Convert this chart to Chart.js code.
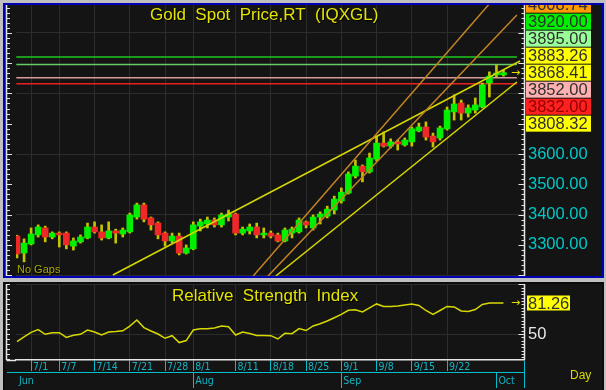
<!DOCTYPE html>
<html>
<head>
<meta charset="utf-8">
<script src="https://cdn.jsdelivr.net/npm/chart.js@4.4.0/dist/chart.umd.min.js"></script>
<style>
  body { margin: 0; width: 606px; height: 390px; overflow: hidden; position: relative; background: #c0c0c0; }
  .panel { position: absolute; left: 3px; width: 597px; background: #141414; overflow: hidden; }
  #top { top: 3px; height: 271px; border: 2px solid #0000b4; }
  #bot { top: 282px; height: 106px; border: 2px solid #0c0c0c; border-bottom: none; }
  canvas { position: absolute; left: 0; top: 0; }
</style>
</head>
<body>
<div class="panel" id="top"><canvas id="price" width="597" height="271"></canvas></div>
<div class="panel" id="bot"><canvas id="rsi" width="597" height="104"></canvas></div>
<script>
const dates = ["6/27","6/30","7/1","7/2","7/3","7/4","7/7","7/8","7/9","7/10","7/11",
  "7/14","7/15","7/16","7/17","7/18","7/21","7/22","7/23","7/24","7/25","7/28","7/29","7/30","7/31",
  "8/1","8/4","8/5","8/6","8/7","8/8","8/11","8/12","8/13","8/14","8/15","8/18","8/19","8/20","8/21","8/22",
  "8/25","8/26","8/27","8/28","8/29","9/1","9/2","9/3","9/4","9/5","9/8","9/9","9/10","9/11","9/12",
  "9/15","9/16","9/17","9/18","9/19","9/22","9/23","9/24","9/25","9/26","9/29","9/30","10/1","10/2"];

const open  = [3329,3273,3303,3333,3356,3326,3339,3339,3296,3310,3323,3359,3343,3323,3346,3336,3343,3392,3432,3389,
  3372,3339,3313,3329,3273,3287,3362,3369,3382,3366,3392,3402,3339,3346,3359,3333,3339,3333,3313,3339,
  3343,3376,3356,3392,3395,3415,3445,3471,3527,3560,3541,3583,3636,3626,3640,3630,3640,3676,3689,3659,
  3653,3683,3739,3768,3735,3745,3755,3834,3861,3861];
const high  = [3332,3320,3356,3366,3362,3343,3343,3343,3323,3333,3372,3376,3366,3376,3352,3356,3405,3438,3438,3392,
  3376,3343,3339,3339,3300,3376,3385,3392,3389,3405,3415,3405,3359,3369,3372,3356,3346,3339,3356,3359,
  3389,3379,3399,3409,3428,3461,3488,3541,3580,3564,3603,3659,3673,3650,3646,3653,3689,3702,3706,3669,
  3692,3755,3795,3778,3762,3785,3834,3871,3894,3877];
const low   = [3257,3244,3300,3326,3310,3320,3293,3287,3283,3306,3320,3339,3316,3320,3306,3326,3339,3385,3376,3349,
  3320,3296,3306,3267,3270,3284,3346,3356,3359,3359,3379,3333,3333,3336,3323,3323,3323,3310,3310,3323,
  3339,3356,3349,3369,3389,3402,3438,3468,3521,3508,3537,3577,3623,3620,3613,3626,3626,3673,3646,3623,
  3646,3679,3712,3712,3722,3735,3752,3788,3854,3857];
const close = [3270,3306,3336,3359,3326,3339,3333,3300,3313,3326,3359,3343,3323,3346,3339,3349,3399,3432,3385,3366,
  3333,3313,3329,3273,3290,3366,3376,3382,3366,3399,3402,3339,3352,3359,3333,3339,3329,3313,3349,3352,
  3382,3366,3392,3402,3418,3451,3474,3534,3560,3541,3587,3636,3626,3640,3633,3646,3683,3689,3656,3640,
  3686,3745,3765,3735,3752,3762,3828,3857,3867,3868.41];

const rsi = [42.2,47.0,51.7,54.5,49.7,51.3,51.3,46.5,48.7,49.7,54.0,52.0,49.0,52.0,52.5,53.2,58.0,64.1,56.5,53.0,
  50.0,45.7,48.3,41.4,43.4,54.0,55.4,55.4,56.1,58.1,57.4,49.0,52.0,50.5,48.6,48.4,48.3,45.0,50.7,50.3,
  55.5,53.5,58.1,60.3,63.1,66.4,69.7,73.9,74.5,72.2,76.3,80.3,77.7,77.8,78.3,79.3,80.3,78.8,73.7,69.7,
  73.7,77.8,77.3,73.2,72.7,74.7,79.8,81.3,81.3,81.26];

const weekStarts = ["7/1","7/7","7/14","7/21","7/28","8/1","8/11","8/18","8/25","9/1","9/8","9/15","9/22"];
const monthLabels = ["Jun","Aug","Sep","Oct"];
const monthStarts = ["6/27","8/1","9/1","10/1"];

const priceTicks = [3200,3300,3400,3500,3600,3700,3800,3900,4000];
const priceLabelled = [3300,3400,3500,3600];
const rsiTicks = [50,100];

const levelValues = [3920, 3895, 3852, 3832];
const levelColors = ["#1ec81e", "#66cc66", "#d89a9a", "#e82020"];

const boxValues = [4008.74, 3920.00, 3895.00, 3883.26, 3868.41, 3852.00, 3832.00, 3808.32];
const boxColors = ["#ff9a00", "#00f000", "#99ff99", "#ffff00", "#ffff00", "#ffb0b0", "#ff2020", "#ffff00"];
const boxText   = ["#303030", "#303030", "#303030", "#303030", "#303030", "#303030", "#900000", "#303030"];

// trend lines: [start index, start price, end index, end price]
const trendYellow = [[13.6, 3200.7, 71.35, 3906.9], [36.7, 3197.4, 70.9, 3837.6]];
const trendOrange = [[33.5, 3197.4, 67.1, 4098.3], [35.6, 3197.4, 70.9, 4058.7]];

const rsiLast = 81.26;

Chart.defaults.font.family = '"Liberation Sans", Arial, sans-serif';
Chart.defaults.animation = false;

const xMin = -0.142, xMax = 71.91;
const weekIdx = weekStarts.map(d => dates.indexOf(d));
const monthIdx = monthStarts.map(d => dates.indexOf(d));
const gridColor = "#2c2c2c";
const cyan = "#00c0d0";
const smallFont = '"Liberation Sans Narrow", "DejaVu Sans Condensed", "Liberation Sans", sans-serif';

function noPad(s) {
  s.paddingTop = 0; s.paddingBottom = 0; s.paddingLeft = 0; s.paddingRight = 0;
}

function drawAxisTicks(ctx, scale, x, dir, step, majorEvery, minorLen, majorLen, top, bottom) {
  ctx.strokeStyle = "#e6e6e6";
  ctx.lineWidth = 1.5;
  ctx.beginPath(); ctx.moveTo(x, top); ctx.lineTo(x, bottom); ctx.stroke();
  ctx.lineWidth = 1;
  const k0 = Math.ceil(scale.min / step), k1 = Math.floor(scale.max / step);
  for (let k = k0; k <= k1; k++) {
    const py = Math.round(scale.getPixelForValue(k * step)) + 0.5;
    const len = k % majorEvery === 0 ? majorLen : minorLen;
    ctx.beginPath(); ctx.moveTo(x, py); ctx.lineTo(x + dir * len, py); ctx.stroke();
  }
}

function titleText(ctx, text, x, y, color, font) {
  ctx.font = font;
  ctx.textAlign = "left";
  ctx.textBaseline = "middle";
  ctx.fillStyle = "#000";
  ctx.fillText(text, x + 1, y + 1);
  ctx.fillStyle = color;
  ctx.fillText(text, x, y);
}

const priceDecor = {
  id: "priceDecor",
  afterDraw(chart) {
    const { ctx, chartArea: a, scales: { y } } = chart;
    ctx.save();
    drawAxisTicks(ctx, y, 1.5, 1, 100 / 6, 6, 3.5, 5.5, 0, chart.height);
    drawAxisTicks(ctx, y, a.right + 0.5, -1, 100 / 6, 6, 3, 6, 0, chart.height);

    // last price arrow
    const last = close[close.length - 1];
    const yLast = y.getPixelForValue(last);
    ctx.fillStyle = "#e0e000";
    ctx.font = "11px 'DejaVu Sans'";
    ctx.textAlign = "left";
    ctx.textBaseline = "middle";
    ctx.fillText("\u2192", a.right - 13, yLast);

    // stacked price boxes
    const lastBox = boxValues.indexOf(last);
    ctx.font = '16.5px "Liberation Sans", Arial';
    boxValues.forEach((v, k) => {
      const cy = yLast + (k - lastBox) * 17;
      ctx.fillStyle = boxColors[k];
      ctx.fillRect(a.right + 2, cy - 8, 65, 16);
      ctx.fillStyle = boxText[k];
      ctx.fillText(v.toFixed(2), a.right + 4, cy + 1);
    });

    titleText(ctx, "Gold  Spot  Price,RT  (IQXGL)", 145, 10, "#e4e400", '17px "Liberation Sans", Arial');
    titleText(ctx, "No Gaps", 12, 265, "#a8a800", '11px "Liberation Sans", Arial');
    ctx.restore();
  }
};

const rsiDecor = {
  id: "rsiDecor",
  afterDraw(chart) {
    const { ctx, chartArea: a, scales: { y } } = chart;
    ctx.save();
    // date/month rows: extend frame lines to the left axis and close them on the right
    ctx.lineWidth = 1.5;
    ctx.strokeStyle = "#e6e6e6";
    ctx.beginPath(); ctx.moveTo(1.5, a.bottom + 0.5); ctx.lineTo(a.left, a.bottom + 0.5); ctx.stroke();
    ctx.lineWidth = 1;
    ctx.strokeStyle = cyan;
    ctx.beginPath(); ctx.moveTo(2, a.bottom + 12.5); ctx.lineTo(a.left, a.bottom + 12.5); ctx.stroke();
    ctx.beginPath(); ctx.moveTo(a.right + 0.5, a.bottom + 1); ctx.lineTo(a.right + 0.5, chart.height); ctx.stroke();

    drawAxisTicks(ctx, y, 1.5, 1, 5, 10, 3.5, 3.5, 0, a.bottom);
    drawAxisTicks(ctx, y, a.right + 0.5, -1, 10 / 3, 15, 3, 6, 0, a.bottom);

    const yv = y.getPixelForValue(rsiLast);
    ctx.font = '16.5px "Liberation Sans", Arial';
    ctx.textAlign = "left";
    ctx.textBaseline = "middle";
    ctx.fillStyle = "#ffff00";
    ctx.fillRect(a.right + 3, yv - 7.5, 43, 15);
    ctx.fillStyle = "#303030";
    ctx.fillText(rsiLast.toFixed(2), a.right + 4, yv + 1);

    ctx.fillStyle = "#e0e000";
    ctx.font = "11px 'DejaVu Sans'";
    ctx.fillText("\u2192", a.right - 13, yv);

    titleText(ctx, "Relative  Strength  Index", 167, 12, "#e4e400", '17px "Liberation Sans", Arial');
    ctx.font = '12px "Liberation Sans", Arial';
    ctx.fillStyle = "#d8d800";
    ctx.fillText("Day", 565, 92);
    ctx.restore();
  }
};

function segment(t, color, order) {
  return {
    type: "line",
    data: [{ x: t[0], y: t[1] }, { x: t[2], y: t[3] }],
    borderColor: color, borderWidth: 1.5, pointRadius: 0, order: order
  };
}

const priceDatasets = [
  {
    type: "bar",
    data: dates.map((d, i) => ({ x: i, y: [low[i], high[i]] })),
    backgroundColor: "#c4c400",
    barThickness: 2, grouped: false, order: 3, borderWidth: 0
  },
  {
    type: "bar",
    data: dates.map((d, i) => ({ x: i, y: [open[i], close[i]] })),
    backgroundColor: dates.map((d, i) => close[i] >= open[i] ? "#00f000" : "#f02828"),
    barThickness: 6, grouped: false, order: 2, borderWidth: 0, minBarLength: 1.5
  }
];
levelValues.forEach((v, k) => priceDatasets.push(segment([-0.1, v, 70.9, v], levelColors[k], 5)));
trendOrange.forEach(t => priceDatasets.push(segment(t, "#c48424", 1)));
trendYellow.forEach(t => priceDatasets.push(segment(t, "#d6d600", 1)));

new Chart(document.getElementById("price"), {
  type: "bar",
  data: { datasets: priceDatasets },
  options: {
    responsive: false,
    devicePixelRatio: 1,
    layout: { padding: { left: 11, top: 0, right: 0, bottom: 0 } },
    plugins: { legend: { display: false }, tooltip: { enabled: false } },
    scales: {
      x: {
        type: "linear", min: xMin, max: xMax, offset: false,
        afterBuildTicks: s => { s.ticks = weekIdx.map(v => ({ value: v })); },
        afterFit: s => { s.height = 0; noPad(s); },
        ticks: { display: false },
        grid: { color: gridColor, drawTicks: false, offset: false },
        border: { display: false }
      },
      y: {
        position: "right", min: 3197.4, max: 4091.7,
        afterBuildTicks: s => { s.ticks = priceTicks.map(v => ({ value: v })); },
        afterFit: s => { s.width = 78; noPad(s); },
        ticks: {
          padding: 4, color: "#00c8c8", font: { size: 16.5 },
          callback: v => priceLabelled.includes(v) ? v.toFixed(2) : ""
        },
        grid: {
          drawTicks: false,
          color: ctx => (ctx.tick && ctx.tick.value % 200 === 0) ? gridColor : "rgba(0,0,0,0)"
        },
        border: { display: false }
      }
    }
  },
  plugins: [priceDecor]
});

new Chart(document.getElementById("rsi"), {
  type: "line",
  data: {
    datasets: [{
      data: rsi.map((v, i) => ({ x: i, y: v })),
      borderColor: "#d8d800", borderWidth: 1.5, pointRadius: 0
    }]
  },
  options: {
    responsive: false,
    devicePixelRatio: 1,
    layout: { padding: { left: 11, top: 0, right: 0, bottom: 0 } },
    plugins: { legend: { display: false }, tooltip: { enabled: false } },
    scales: {
      x: {
        type: "linear", min: xMin, max: xMax, position: "bottom", weight: 0,
        afterBuildTicks: s => { s.ticks = weekIdx.map(v => ({ value: v })); },
        afterFit: s => { s.height = 12; noPad(s); },
        ticks: {
          autoSkip: false, maxRotation: 0, minRotation: 0, align: "start",
          labelOffset: 2, padding: -10,
          color: "#14b4c4", font: { size: 10.5, family: smallFont },
          callback: v => dates[v]
        },
        grid: { color: gridColor, tickColor: cyan, tickLength: 11 },
        border: { color: "#e6e6e6", width: 1.5 }
      },
      xm: {
        type: "linear", min: xMin, max: xMax, position: "bottom", weight: 1,
        afterBuildTicks: s => { s.ticks = monthIdx.map(v => ({ value: v })); },
        afterFit: s => { s.height = 16; noPad(s); },
        ticks: {
          autoSkip: false, maxRotation: 0, minRotation: 0, align: "start",
          labelOffset: 2, padding: -13,
          color: "#14b4c4", font: { size: 10.5, family: smallFont },
          callback: v => monthLabels[monthIdx.indexOf(v)]
        },
        grid: {
          drawOnChartArea: false, tickLength: 16,
          tickColor: ctx => ctx.index === 0 ? "rgba(0,0,0,0)" : cyan
        },
        border: { color: cyan, width: 1 }
      },
      y: {
        position: "right", min: 23.8, max: 100.4,
        afterBuildTicks: s => { s.ticks = rsiTicks.map(v => ({ value: v })); },
        afterFit: s => { s.width = 78; noPad(s); },
        ticks: {
          padding: 4, color: "#e8e8e8", font: { size: 16.5 },
          callback: v => v === 50 ? "50" : ""
        },
        grid: { drawTicks: false, color: gridColor },
        border: { display: false }
      }
    }
  },
  plugins: [rsiDecor]
});
</script>
</body>
</html>
